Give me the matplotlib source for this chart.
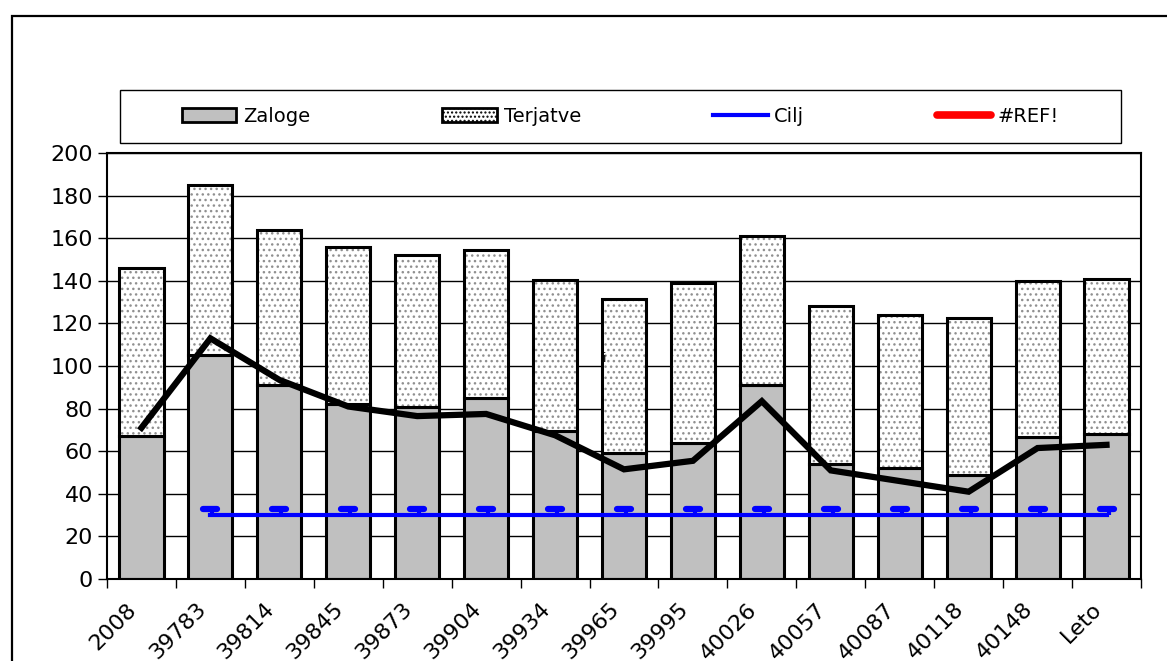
import numpy as np
import matplotlib.pyplot as plt
import matplotlib.transforms as mtransforms
from matplotlib.lines import Line2D
from matplotlib.markers import MarkerStyle
from matplotlib.patches import Patch, Rectangle

# podatki po mesecih
kategorije = ['2008', '39783', '39814', '39845', '39873', '39904', '39934',
              '39965', '39995', '40026', '40057', '40087', '40118', '40148', 'Leto']
zaloge = [67, 105, 91, 82, 81, 85, 69.5, 59, 64, 91, 54, 52, 49, 66.5, 68]
skupaj = [146, 185, 164, 156, 152, 154.5, 140.5, 131.5, 139, 161, 128, 124, 122.5, 140, 141]
terjatve = [s - z for s, z in zip(skupaj, zaloge)]
dni_vezave = [71, 113, 93.5, 81, 76.5, 77.5, 67.5, 51.5, 55.5, 83.5, 51, 46, 41, 61.5, 63]
cilj = [None, 30, 30, 30, 30, 30, 30, 30, 30, 30, 30, 30, 30, 30, 30]
cilj_oznaka = 33  # visina oznak nad ciljno črto

fig = plt.figure(figsize=(11.67, 6.61), dpi=100)
# okvir grafikona in okvir legende
fig.patches.append(Rectangle((0.0103, -0.1), 1.2, 1.0758, transform=fig.transFigure,
                             fill=False, edgecolor='black', linewidth=1.6))
fig.patches.append(Rectangle((0.1028, 0.7837), 0.858, 0.0801, transform=fig.transFigure,
                             fill=False, edgecolor='black', linewidth=1.0))
ax = fig.add_axes([0.0917, 0.124, 0.886, 0.6445])

x = np.arange(len(kategorije))
w = 0.64
ax.bar(x, zaloge, w, color='#c0c0c0', edgecolor='black', linewidth=2.2, zorder=2)
ax.bar(x, terjatve, w, bottom=zaloge, color='white', edgecolor='#909090',
       hatch='...', linewidth=0, zorder=2)
ax.bar(x, terjatve, w, bottom=zaloge, fill=False, edgecolor='black', linewidth=2.2, zorder=3)

ax.plot(x, dni_vezave, color='black', linewidth=4.5, zorder=4, solid_joinstyle='miter')

xc = np.array([i for i, c in enumerate(cilj) if c is not None])
yc = np.array([c for c in cilj if c is not None])
ax.plot(xc, yc, color='#0000ff', linewidth=3, zorder=5)
ax.vlines(xc + 0.03, yc, cilj_oznaka, color='#0000ff', linewidth=3, zorder=5)
ax.plot(xc, np.full(len(xc), cilj_oznaka), ls='none',
        marker=MarkerStyle('_', capstyle='round'), ms=10, mew=4.5,
        color='#0000ff', zorder=5)

ax.text(6.7, 102, 'i', fontsize=9, zorder=6)

ax.set_xlim(-0.5, len(kategorije) - 0.5)
ax.set_ylim(0, 200)
ax.set_yticks(np.arange(0, 201, 20))
ax.yaxis.grid(True, color='black', linewidth=1)
ax.set_axisbelow(True)
ax.set_xticks(x)
ax.set_xticklabels(kategorije, rotation=45, ha='right', rotation_mode='anchor')
ax.set_xticks(np.arange(-0.5, len(kategorije)), minor=True)
ax.tick_params(axis='x', which='major', length=0, labelsize=16, pad=13)
ax.tick_params(axis='x', which='minor', length=6.5, width=1)
ax.tick_params(axis='y', length=6.5, width=1, labelsize=16)
premik = mtransforms.ScaledTranslation(-0.15, -0.02, fig.dpi_scale_trans)
for lbl in ax.get_xticklabels():
    lbl.set_transform(lbl.get_transform() + premik)
for s in ax.spines.values():
    s.set_linewidth(1.5)
    s.set_color('black')

handles = [Patch(facecolor='#c0c0c0', edgecolor='black', linewidth=2),
           Patch(facecolor='white', edgecolor='black', hatch='....', linewidth=2),
           Line2D([], [], color='#0000ff', linewidth=3),
           Line2D([], [], color='#ff0000', linewidth=5.5, solid_capstyle='round')]
fig.legend(handles, ['Zaloge', 'Terjatve', 'Cilj', '#REF!'], ncol=4,
           loc='center', bbox_to_anchor=(0.5317, 0.8238), frameon=False,
           fontsize=14, handlelength=2.8, handleheight=0.7,
           handletextpad=0.35, columnspacing=6.8)

fig.savefig('out.png', dpi=100)
